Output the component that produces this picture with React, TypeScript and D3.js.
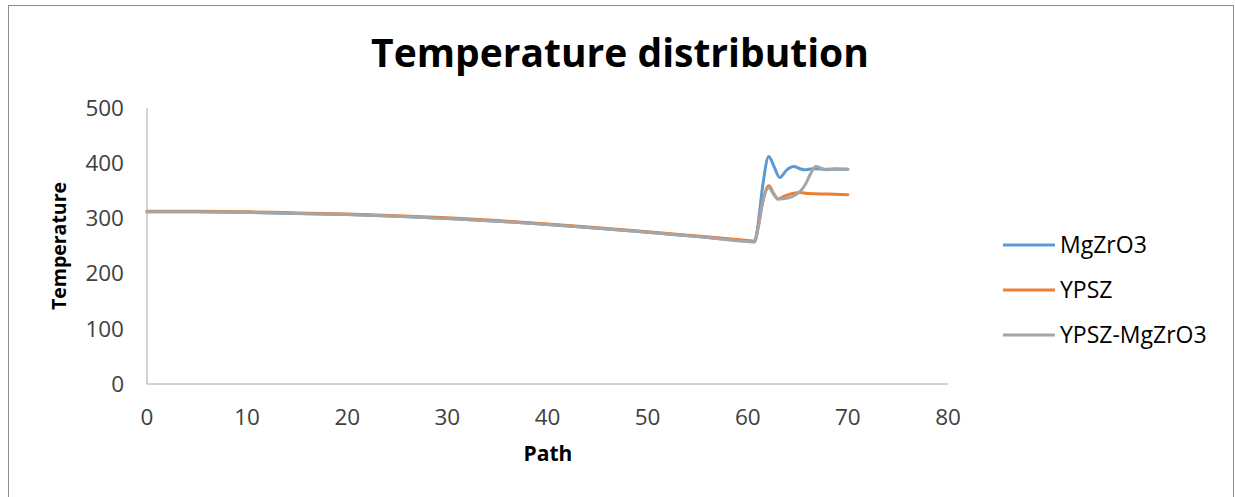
import React from "react";
import * as d3 from "d3";

const seriesNames = ["MgZrO3", "YPSZ", "YPSZ-MgZrO3"];
const seriesColors = ["#5B9BD5", "#ED7D31", "#A5A5A5"];

const mgX = [0, 5, 10, 15, 20, 25, 30, 35, 40, 45, 50, 55, 60, 60.7, 61.0, 61.5, 62.1, 62.6, 63.2, 63.9, 64.6, 65.2, 65.7, 66.5, 68, 70];
const mgY = [312, 312, 311, 309, 307, 304, 300, 295, 289, 282, 275, 267, 259, 258, 285, 360, 412, 395, 374, 388, 394, 390, 388, 390, 389, 389];

const ypX = [0, 5, 10, 15, 20, 25, 30, 35, 40, 45, 50, 55, 60, 60.7, 61.0, 61.5, 62.1, 62.6, 63.0, 63.6, 64.2, 65.2, 66, 68, 70];
const ypY = [313, 313, 312, 310, 308, 305, 301, 296, 290, 283, 276, 268, 260, 259, 280, 330, 359, 345, 335, 340, 344, 347, 345, 344, 343];

const mixX = [0, 5, 10, 15, 20, 25, 30, 35, 40, 45, 50, 55, 60, 60.7, 61.0, 61.5, 62.1, 62.6, 63.1, 64, 64.7, 65.3, 65.8, 66.3, 66.8, 67.3, 67.8, 68.7, 70];
const mixY = [312, 312, 311, 309, 307, 304, 300, 295, 289, 282, 275, 267, 258, 257, 280, 330, 356, 343, 335, 337, 342, 350, 363, 382, 394, 391, 388, 390, 389];

const xTicks = [0, 10, 20, 30, 40, 50, 60, 70, 80];
const yTicks = [0, 100, 200, 300, 400, 500];

const seriesX = [mgX, ypX, mixX];
const seriesY = [mgY, ypY, mixY];

const FONT = "'Open Sans', 'Liberation Sans', sans-serif";

export default function App() {
  const x = d3.scaleLinear().domain([0, 80]).range([147, 948]);
  const y = d3.scaleLinear().domain([0, 500]).range([384, 108]);
  const line = d3
    .line<[number, number]>()
    .x((d) => x(d[0]))
    .y((d) => y(d[1]))
    .curve(d3.curveMonotoneX);

  return (
    <svg
      width={1235}
      height={497}
      style={{ position: "absolute", left: 0, top: 0, background: "#fff" }}
    >
      <rect x={8.5} y={5.5} width={1225} height={500} fill="#fff" stroke="#8c8c8c" strokeWidth={1} />
      <text x={620} y={67} textAnchor="middle" fontFamily={FONT} fontWeight="bold" fontSize={39} fill="#000">
        Temperature distribution
      </text>
      <line x1={x(0)} x2={x(0)} y1={y(500)} y2={y(0)} stroke="#a6a6a6" strokeWidth={1} />
      <line x1={x(0)} x2={x(80)} y1={y(0)} y2={y(0)} stroke="#a6a6a6" strokeWidth={1} />
      {yTicks.map((t) => (
        <text key={"y" + t} x={124} y={y(t)} dy="0.35em" textAnchor="end" fontFamily={FONT} fontSize={22.5} fill="#404040">
          {t}
        </text>
      ))}
      {xTicks.map((t) => (
        <text key={"x" + t} x={x(t)} y={425} textAnchor="middle" fontFamily={FONT} fontSize={22.5} fill="#404040">
          {t}
        </text>
      ))}
      <text x={548} y={461} textAnchor="middle" fontFamily={FONT} fontWeight="bold" fontSize={21} fill="#000">
        Path
      </text>
      <text
        transform={`translate(66,246) rotate(-90)`}
        textAnchor="middle"
        fontFamily={FONT}
        fontWeight="bold"
        fontSize={19.5}
        fill="#000"
      >
        Temperature
      </text>
      {seriesNames.map((n, i) => (
        <path
          key={n}
          d={line(seriesX[i].map((v, j) => [v, seriesY[i][j]] as [number, number])) || ""}
          fill="none"
          stroke={seriesColors[i]}
          strokeWidth={3}
          strokeLinejoin="round"
          strokeLinecap="round"
        />
      ))}
      {seriesNames.map((n, i) => (
        <g key={"lg" + n}>
          <line x1={1003} x2={1055} y1={245 + i * 45} y2={245 + i * 45} stroke={seriesColors[i]} strokeWidth={3} />
          <text x={1060} y={245 + i * 45} dy="0.35em" fontFamily={FONT} fontSize={23} fill="#000">
            {n}
          </text>
        </g>
      ))}
    </svg>
  );
}
